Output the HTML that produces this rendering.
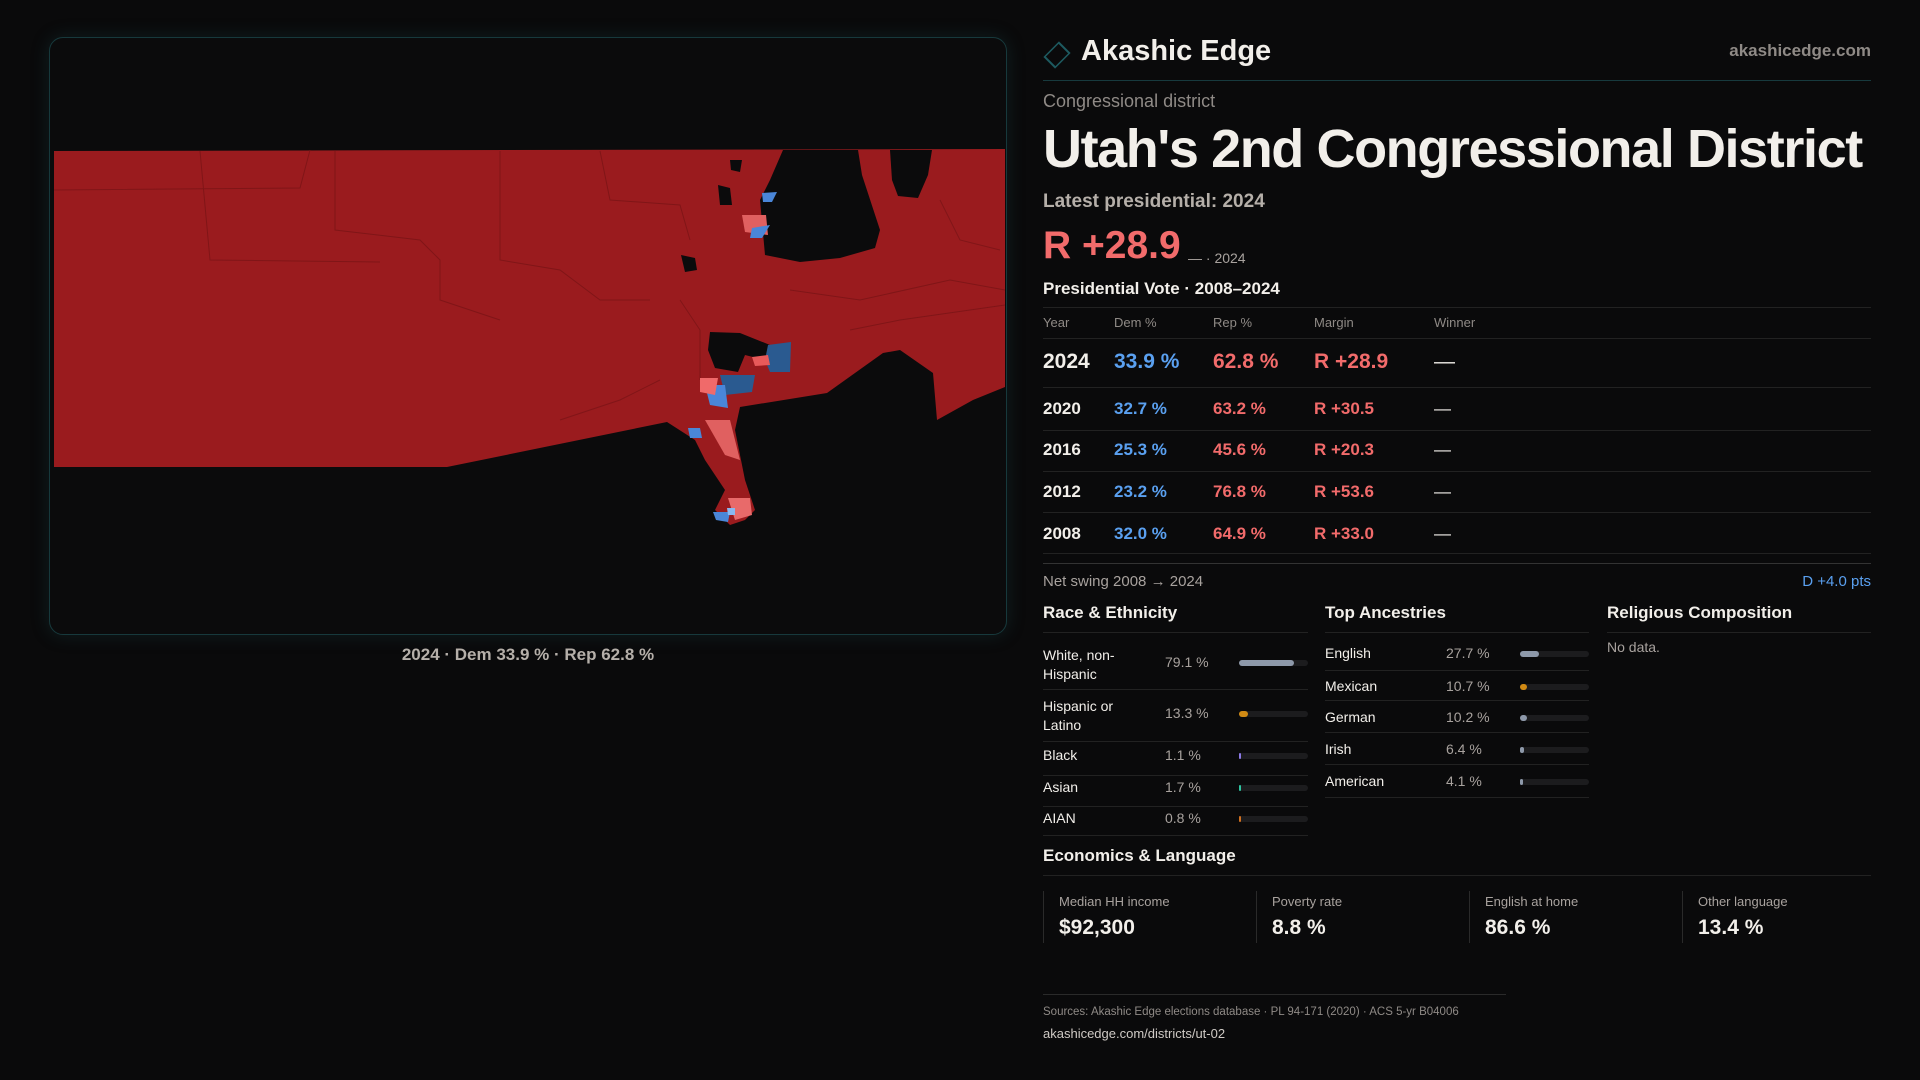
<!DOCTYPE html>
<html><head><meta charset="utf-8"><style>
*{margin:0;padding:0;box-sizing:border-box}
body{width:1920px;height:1080px;background:#0a0a0b;font-family:"Liberation Sans",sans-serif;color:#f2efea;position:relative;overflow:hidden}
.a{position:absolute;white-space:nowrap}
.g{color:#a8a29e}
.ln{position:absolute;height:1px;background:#222}
.bar{position:absolute;height:6px;border-radius:3px;background:#1c1c1e}
.bar i{position:absolute;left:0;top:0;height:6px;border-radius:3px}
</style></head><body>
<div class="a" style="left:49px;top:37px;width:958px;height:598px;border:1px solid #17393c;border-radius:14px;background:#0b0b0c;box-shadow:0 0 18px rgba(30,90,95,.25);overflow:hidden">
<svg width="958" height="598" viewBox="49 37 958 598" style="position:absolute;left:-1px;top:-1px">
<polygon fill="#9a1b1e" points="54,151 1005,149 1005,387 973,400 937,420 933,373 900,350 883,353 827,393 740,407 735,430 745,480 755,510 745,520 730,525 715,510 725,490 705,460 695,440 667,422 447,467 54,467"/>
<g stroke="#7a1416" stroke-width="1" fill="none" opacity=".8">
<polyline points="54,190 300,188 310,150"/><polyline points="335,151 335,230 420,240 440,260 440,300 500,320"/>
<polyline points="500,151 500,260 560,270 600,300 650,300"/><polyline points="200,151 210,260 380,262"/>
<polyline points="600,151 610,200 680,205 690,240"/><polyline points="790,290 860,300 950,280 1005,290"/>
<polyline points="850,330 900,320 1005,305"/><polyline points="680,300 700,330 700,380"/>
<polyline points="940,200 960,240 1000,250"/><polyline points="560,420 620,400 660,380"/>
</g>
<polygon fill="#0b0b0c" points="783,150 858,150 862,175 880,230 875,248 840,258 800,262 765,255 760,200 770,180"/>
<polygon fill="#0b0b0c" points="890,150 932,150 928,175 918,198 898,196 892,180"/>
<polygon fill="#0b0b0c" points="710,332 740,333 770,345 765,360 745,355 738,372 715,368 708,350"/>
<polygon fill="#0b0b0c" points="681,255 695,258 697,270 685,272"/>
<polygon fill="#0b0b0c" points="718,185 730,188 732,205 720,205"/>
<polygon fill="#0b0b0c" points="730,160 742,160 740,172 731,170"/>
<polygon fill="#2a5a90" points="768,345 791,342 790,372 770,372 765,360"/>
<polygon fill="#2a5a90" points="720,375 755,375 752,392 725,395"/>
<polygon fill="#4a86d8" points="705,385 725,385 728,408 710,405"/>
<polygon fill="#f06a6a" points="700,378 718,378 715,395 700,392"/>
<polygon fill="#e85a5a" points="752,357 768,355 770,365 755,366"/>
<polygon fill="#4a86d8" points="762,193 777,192 772,202 763,202"/>
<polygon fill="#e06060" points="742,215 766,215 768,235 745,232"/>
<polygon fill="#4a86d8" points="752,228 770,225 762,238 750,238"/>
<polygon fill="#4a86d8" points="688,428 700,428 702,438 690,438"/>
<polygon fill="#e06060" points="705,420 730,420 740,460 725,455"/>
<polygon fill="#e86a6a" points="728,498 750,498 752,515 735,520"/>
<polygon fill="#4a86d8" points="713,512 730,512 728,522 716,520"/>
<polygon fill="#8ab8f0" points="727,508 735,508 735,515 728,515"/>
</svg></div>
<div class="a g" style="left:0;width:1056px;top:645px;text-align:center;font-size:17px;font-weight:bold;color:#b5afa9">2024 · Dem 33.9 % · Rep 62.8 %</div>

<div class="a" style="left:1046px;top:44px;width:22px;height:22px;border:2px solid #1d5a60;transform:rotate(45deg) scaleX(.75)"></div>
<div class="a" style="left:1081px;top:35px;font-size:29px;font-weight:bold">Akashic Edge</div>
<div class="a g" style="right:49px;top:41px;font-size:17px;font-weight:bold;color:#8f8a86">akashicedge.com</div>
<div class="ln" style="left:1043px;width:828px;top:80px;background:#173a3e"></div>
<div class="a g" style="left:1043px;top:91px;font-size:18px;color:#8f8a86">Congressional district</div>
<div class="a" style="left:1043px;top:118px;font-size:54px;font-weight:bold;letter-spacing:-1.4px">Utah's 2nd Congressional District</div>
<div class="a g" style="left:1043px;top:191px;font-size:19px;font-weight:bold;color:#b5afa9">Latest presidential: 2024</div>
<div class="a" style="left:1043px;top:224px;font-size:39px;font-weight:bold;color:#f26b6b">R +28.9</div>
<div class="a g" style="left:1188px;top:250px;font-size:14px">— · 2024</div>
<div class="a" style="left:1043px;top:279px;font-size:17px;font-weight:bold">Presidential Vote · 2008–2024</div>
<div class="ln" style="left:1043px;width:828px;top:307px"></div>
<div class="a g" style="left:1043px;top:315px;font-size:13px;color:#8f8a86">Year</div>
<div class="a g" style="left:1114px;top:315px;font-size:13px;color:#8f8a86">Dem %</div>
<div class="a g" style="left:1213px;top:315px;font-size:13px;color:#8f8a86">Rep %</div>
<div class="a g" style="left:1314px;top:315px;font-size:13px;color:#8f8a86">Margin</div>
<div class="a g" style="left:1434px;top:315px;font-size:13px;color:#8f8a86">Winner</div>
<div class="ln" style="left:1043px;width:828px;top:338px"></div>
<div class="a" style="left:1043px;top:350px;font-size:21px;font-weight:bold">2024</div>
<div class="a" style="left:1114px;top:350px;font-size:21px;font-weight:bold;color:#5aa0f0">33.9 %</div>
<div class="a" style="left:1213px;top:350px;font-size:21px;font-weight:bold;color:#f26b6b">62.8 %</div>
<div class="a" style="left:1314px;top:350px;font-size:21px;font-weight:bold;color:#f26b6b">R +28.9</div>
<div class="a" style="left:1434px;top:350px;font-size:21px">—</div>
<div class="ln" style="left:1043px;width:828px;top:387px"></div>
<div class="a" style="left:1043px;top:399px;font-size:17px;font-weight:bold">2020</div><div class="a" style="left:1114px;top:399px;font-size:17px;font-weight:bold;color:#5aa0f0">32.7 %</div><div class="a" style="left:1213px;top:399px;font-size:17px;font-weight:bold;color:#f26b6b">63.2 %</div><div class="a" style="left:1314px;top:399px;font-size:17px;font-weight:bold;color:#f26b6b">R +30.5</div><div class="a" style="left:1434px;top:399px;font-size:17px">—</div>
<div class="ln" style="left:1043px;width:828px;top:430px"></div>
<div class="a" style="left:1043px;top:440px;font-size:17px;font-weight:bold">2016</div><div class="a" style="left:1114px;top:440px;font-size:17px;font-weight:bold;color:#5aa0f0">25.3 %</div><div class="a" style="left:1213px;top:440px;font-size:17px;font-weight:bold;color:#f26b6b">45.6 %</div><div class="a" style="left:1314px;top:440px;font-size:17px;font-weight:bold;color:#f26b6b">R +20.3</div><div class="a" style="left:1434px;top:440px;font-size:17px">—</div>
<div class="ln" style="left:1043px;width:828px;top:471px"></div>
<div class="a" style="left:1043px;top:482px;font-size:17px;font-weight:bold">2012</div><div class="a" style="left:1114px;top:482px;font-size:17px;font-weight:bold;color:#5aa0f0">23.2 %</div><div class="a" style="left:1213px;top:482px;font-size:17px;font-weight:bold;color:#f26b6b">76.8 %</div><div class="a" style="left:1314px;top:482px;font-size:17px;font-weight:bold;color:#f26b6b">R +53.6</div><div class="a" style="left:1434px;top:482px;font-size:17px">—</div>
<div class="ln" style="left:1043px;width:828px;top:512px"></div>
<div class="a" style="left:1043px;top:524px;font-size:17px;font-weight:bold">2008</div><div class="a" style="left:1114px;top:524px;font-size:17px;font-weight:bold;color:#5aa0f0">32.0 %</div><div class="a" style="left:1213px;top:524px;font-size:17px;font-weight:bold;color:#f26b6b">64.9 %</div><div class="a" style="left:1314px;top:524px;font-size:17px;font-weight:bold;color:#f26b6b">R +33.0</div><div class="a" style="left:1434px;top:524px;font-size:17px">—</div>
<div class="ln" style="left:1043px;width:828px;top:553px"></div>
<div class="ln" style="left:1043px;width:828px;top:563px;background:#333"></div>
<div class="a g" style="left:1043px;top:573px;font-size:15px;color:#a8a29e">Net swing 2008 → 2024</div>
<div class="a" style="right:49px;top:573px;font-size:15px;color:#5aa0f0">D +4.0 pts</div>

<div class="a" style="left:1043px;top:603px;font-size:17px;font-weight:bold">Race &amp; Ethnicity</div>
<div class="a" style="left:1325px;top:603px;font-size:17px;font-weight:bold">Top Ancestries</div>
<div class="a" style="left:1607px;top:603px;font-size:17px;font-weight:bold">Religious Composition</div>
<div class="ln" style="left:1043px;width:265px;top:632px"></div>
<div class="ln" style="left:1325px;width:264px;top:632px"></div>
<div class="ln" style="left:1607px;width:264px;top:632px"></div>
<div class="a g" style="left:1607px;top:639px;font-size:14px">No data.</div>

<div class="a" style="left:1043px;top:646px;font-size:14px;line-height:19px">White, non-<br>Hispanic</div><div class="a g" style="left:1165px;top:654px;font-size:14px">79.1 %</div><div class="bar" style="left:1239px;top:660px;width:69px"><i style="width:55px;background:#8e99aa"></i></div>
<div class="ln" style="left:1043px;width:265px;top:689px"></div>
<div class="a" style="left:1043px;top:697px;font-size:14px;line-height:19px">Hispanic or<br>Latino</div><div class="a g" style="left:1165px;top:705px;font-size:14px">13.3 %</div><div class="bar" style="left:1239px;top:711px;width:69px"><i style="width:9px;background:#d08a14"></i></div>
<div class="ln" style="left:1043px;width:265px;top:741px"></div>
<div class="a" style="left:1043px;top:747px;font-size:14px">Black</div><div class="a g" style="left:1165px;top:747px;font-size:14px">1.1 %</div><div class="bar" style="left:1239px;top:753px;width:69px"><i style="width:1.5px;background:#8c7ae6"></i></div>
<div class="ln" style="left:1043px;width:265px;top:775px"></div>
<div class="a" style="left:1043px;top:779px;font-size:14px">Asian</div><div class="a g" style="left:1165px;top:779px;font-size:14px">1.7 %</div><div class="bar" style="left:1239px;top:785px;width:69px"><i style="width:2px;background:#2ec4a0"></i></div>
<div class="ln" style="left:1043px;width:265px;top:806px"></div>
<div class="a" style="left:1043px;top:810px;font-size:14px">AIAN</div><div class="a g" style="left:1165px;top:810px;font-size:14px">0.8 %</div><div class="bar" style="left:1239px;top:816px;width:69px"><i style="width:1.5px;background:#d07020"></i></div>
<div class="ln" style="left:1043px;width:265px;top:835px"></div>

<div class="a" style="left:1325px;top:645px;font-size:14px">English</div><div class="a g" style="left:1446px;top:645px;font-size:14px">27.7 %</div><div class="bar" style="left:1520px;top:651px;width:69px"><i style="width:19px;background:#8e99aa"></i></div>
<div class="ln" style="left:1325px;width:264px;top:670px"></div>
<div class="a" style="left:1325px;top:678px;font-size:14px">Mexican</div><div class="a g" style="left:1446px;top:678px;font-size:14px">10.7 %</div><div class="bar" style="left:1520px;top:684px;width:69px"><i style="width:7px;background:#d08a14"></i></div>
<div class="ln" style="left:1325px;width:264px;top:700px"></div>
<div class="a" style="left:1325px;top:709px;font-size:14px">German</div><div class="a g" style="left:1446px;top:709px;font-size:14px">10.2 %</div><div class="bar" style="left:1520px;top:715px;width:69px"><i style="width:7px;background:#8e99aa"></i></div>
<div class="ln" style="left:1325px;width:264px;top:732px"></div>
<div class="a" style="left:1325px;top:741px;font-size:14px">Irish</div><div class="a g" style="left:1446px;top:741px;font-size:14px">6.4 %</div><div class="bar" style="left:1520px;top:747px;width:69px"><i style="width:4px;background:#8e99aa"></i></div>
<div class="ln" style="left:1325px;width:264px;top:764px"></div>
<div class="a" style="left:1325px;top:773px;font-size:14px">American</div><div class="a g" style="left:1446px;top:773px;font-size:14px">4.1 %</div><div class="bar" style="left:1520px;top:779px;width:69px"><i style="width:3px;background:#8e99aa"></i></div>
<div class="ln" style="left:1325px;width:264px;top:797px"></div>

<div class="a" style="left:1043px;top:846px;font-size:17px;font-weight:bold">Economics &amp; Language</div>
<div class="ln" style="left:1043px;width:828px;top:875px"></div>
<div class="a" style="left:1043px;top:891px;height:52px;width:1px;background:#2a2a2a"></div>
<div class="a" style="left:1256px;top:891px;height:52px;width:1px;background:#2a2a2a"></div>
<div class="a" style="left:1469px;top:891px;height:52px;width:1px;background:#2a2a2a"></div>
<div class="a" style="left:1682px;top:891px;height:52px;width:1px;background:#2a2a2a"></div>
<div class="a g" style="left:1059px;top:894px;font-size:13px">Median HH income</div><div class="a" style="left:1059px;top:916px;font-size:21px;font-weight:bold">$92,300</div>
<div class="a g" style="left:1272px;top:894px;font-size:13px">Poverty rate</div><div class="a" style="left:1272px;top:916px;font-size:21px;font-weight:bold">8.8 %</div>
<div class="a g" style="left:1485px;top:894px;font-size:13px">English at home</div><div class="a" style="left:1485px;top:916px;font-size:21px;font-weight:bold">86.6 %</div>
<div class="a g" style="left:1698px;top:894px;font-size:13px">Other language</div><div class="a" style="left:1698px;top:916px;font-size:21px;font-weight:bold">13.4 %</div>

<div class="ln" style="left:1043px;width:463px;top:994px;background:#2a2a2a"></div>
<div class="a" style="left:1043px;top:1006px;font-size:11.5px;color:#8f8a86">Sources: Akashic Edge elections database · PL 94-171 (2020) · ACS 5-yr B04006</div>
<div class="a" style="left:1043px;top:1026px;font-size:13px;color:#cfcac5">akashicedge.com/districts/ut-02</div>
</body></html>
